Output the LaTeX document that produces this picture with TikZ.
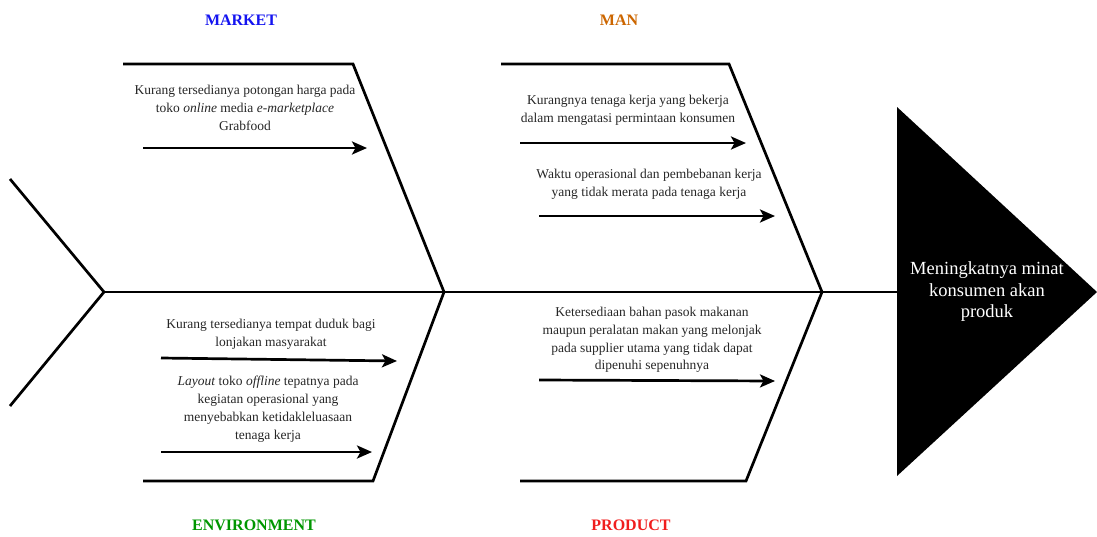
\documentclass[tikz,border=0pt]{standalone}
\usepackage{fontspec}
\setmainfont{Liberation Serif}
\usetikzlibrary{arrows.meta, positioning}
\definecolor{marketblue}{RGB}{20,20,240}
\definecolor{manorange}{RGB}{204,102,0}
\definecolor{envgreen}{RGB}{0,150,0}
\definecolor{prodred}{RGB}{240,30,30}
\tikzset{
  bone/.style={draw, line width=2.7pt, line join=miter},
  cause/.style={font=\fontsize{13.5}{17.8}\selectfont, align=center,
    inner sep=0pt, text=black!85},
  causearrow/.style={draw, line width=2.7pt,
    -{Stealth[length=15pt, width=13pt, inset=3.5pt]}},
  category/.style={font=\fontsize{16}{19}\selectfont\bfseries},
  effect/.style={font=\fontsize{18.5}{21.5}\selectfont, align=center,
    text=white, inner sep=0pt},
}

\begin{document}
\begin{tikzpicture}[x=1pt, y=-1pt]
  \useasboundingbox (0,0) rectangle (1097,536);

  % spine and head
  \coordinate (tailtop)  at (10,179);
  \coordinate (tailjoin) at (104,292);
  \coordinate (tailbot)  at (10,406);
  \coordinate (joinA)    at (444,292);
  \coordinate (joinB)    at (822,292);
  \coordinate (headtop)  at (897,107);
  \coordinate (headmid)  at (897,292);
  \coordinate (headbot)  at (897,476);
  \coordinate (headtip)  at (1097,292);

  \fill (headtop) -- (headtip) -- (headbot) -- cycle;
  \node[effect] (result) at (987,292)
    {Meningkatnya minat\\konsumen akan\\produk};

  \draw[bone] (tailtop) -- (tailjoin) -- (tailbot);
  \draw[bone] (tailjoin) -- (headmid);

  % bones
  \coordinate (market0) at (123,64);
  \coordinate (market1) at (353,64);
  \coordinate (man0)    at (501,64);
  \coordinate (man1)    at (729,64);
  \coordinate (env0)    at (143,481);
  \coordinate (env1)    at (373,481);
  \coordinate (prod0)   at (520,481);
  \coordinate (prod1)   at (746,481);

  \draw[bone] (market0) -- (market1) -- (joinA);
  \draw[bone] (env0) -- (env1) -- (joinA);
  \draw[bone] (man0) -- (man1) -- (joinB);
  \draw[bone] (prod0) -- (prod1) -- (joinB);

  % category labels
  \node[category, text=marketblue] (market) at (241,20) {MARKET};
  \node[category, text=manorange]  (man)    at (619,20) {MAN};
  \node[category, text=envgreen]   (env)    at (254,525) {ENVIRONMENT};
  \node[category, text=prodred]    (prod)   at (631,525) {PRODUCT};

  % causes
  \node[cause] (marketc1) at (245,108)
    {Kurang tersedianya potongan harga pada\\
     toko \textit{online} media \textit{e-marketplace}\\Grabfood};
  \node[cause] (manc1) at (628,110)
    {Kurangnya tenaga kerja yang bekerja\\
     dalam mengatasi permintaan konsumen};
  \node[cause] (manc2) at (649,184)
    {Waktu operasional dan pembebanan kerja\\
     yang tidak merata pada tenaga kerja};
  \node[cause] (envc1) at (271,334)
    {Kurang tersedianya tempat duduk bagi\\lonjakan masyarakat};
  \node[cause] (envc2) at (268,409)
    {\textit{Layout} toko \textit{offline} tepatnya pada\\
     kegiatan operasional yang\\
     menyebabkan ketidakleluasaan\\tenaga kerja};
  \node[cause] (prodc1) at (652,340)
    {Ketersediaan bahan pasok makanan\\
     maupun peralatan makan yang melonjak\\
     pada supplier utama yang tidak dapat\\
     dipenuhi sepenuhnya};

  % cause arrows
  \coordinate (ma1s) at (143,148);  \coordinate (ma1e) at (367,148);
  \coordinate (mn1s) at (520,143);  \coordinate (mn1e) at (746,143);
  \coordinate (mn2s) at (539,216);  \coordinate (mn2e) at (775,216);
  \coordinate (en1s) at (161,358);  \coordinate (en1e) at (397,361);
  \coordinate (en2s) at (161,452);  \coordinate (en2e) at (372,452);
  \coordinate (pr1s) at (539,380);  \coordinate (pr1e) at (775,381);

  \draw[causearrow] (ma1s) -- (ma1e);
  \draw[causearrow] (mn1s) -- (mn1e);
  \draw[causearrow] (mn2s) -- (mn2e);
  \draw[causearrow] (en1s) -- (en1e);
  \draw[causearrow] (en2s) -- (en2e);
  \draw[causearrow] (pr1s) -- (pr1e);
\end{tikzpicture}
\end{document}
